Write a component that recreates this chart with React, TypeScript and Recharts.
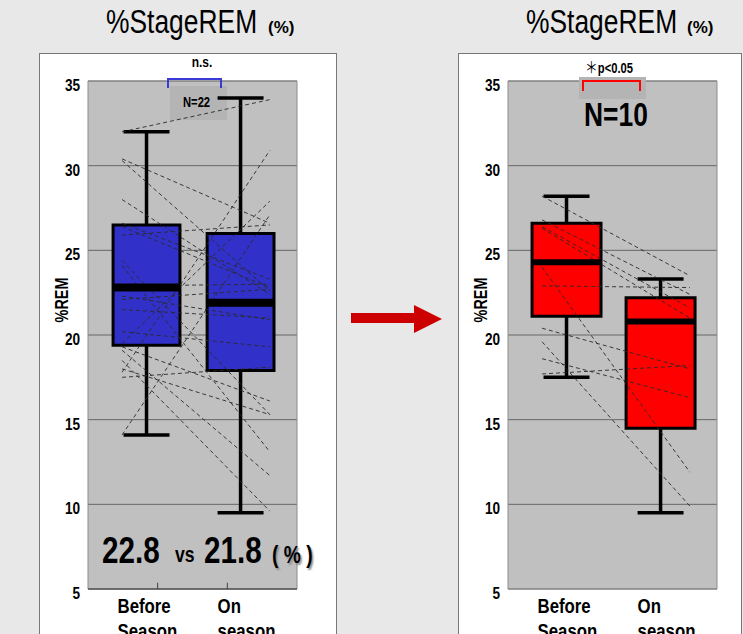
import React from "react";
import {
  ComposedChart,
  Line,
  XAxis,
  YAxis,
  CartesianGrid,
  ReferenceArea,
  ReferenceLine,
} from "recharts";

const yTicks = [5, 10, 15, 20, 25, 30, 35];
const categories = ["Before|Season", "On|season"];

// left panel, all 22 athletes (paired values)
const allBefore = [32.0, 30.4, 30.3, 28.0, 26.6, 26.4, 25.9, 24.4, 24.1, 22.3, 22.1, 21.5, 20.2, 19.3, 19.1, 18.5, 17.5, 14.1, 17.8, 19.5, 22.9, 18.0];
const allOn = [33.9, 26.6, 22.6, 22.4, 23.3, 22.8, 26.5, 15.3, 13.1, 20.9, 22.7, 21.0, 19.3, 16.1, 11.7, 9.6, 18.1, 27.1, 30.9, 27.9, 23.0, 15.3];
// box stats: min, q1, median, q3, max
const allBoxBefore = [14.1, 19.4, 22.8, 26.5, 32.0];
const allBoxOn = [9.5, 17.9, 21.9, 26.0, 34.0];

// right panel, 10 athletes
const subBefore = [28.2, 26.8, 26.4, 26.3, 24.0, 22.9, 20.4, 19.6, 18.6, 17.7];
const subOn = [23.5, 22.4, 21.6, 21.0, 11.9, 22.8, 18.0, 9.9, 16.3, 18.2];
const subBoxBefore = [17.5, 21.1, 24.3, 26.6, 28.2];
const subBoxOn = [9.5, 14.5, 20.8, 22.2, 23.3];

// no narrow font installed, so squeeze Liberation Sans
const FONT = '"Liberation Sans", Arial, sans-serif';
const SQ = 0.8;

// x positions on a 0..100 scale
const X_BEFORE = 28;
const X_ON = 73;
const X_START = 16.3;
const X_END = 87;
const CAP = 11;

function YTick({ x, y, payload }: any) {
  return (
    <text transform={`translate(${x},${y}) scale(${SQ},1)`} x={0} y={10} textAnchor="end" fontFamily={FONT} fontWeight="bold" fontSize={17} fill="#000">
      {payload.value}
    </text>
  );
}

function CatTick({ x, y, payload }: any) {
  const i = payload.value === X_BEFORE ? 0 : 1;
  const [a, b] = categories[i].split("|");
  const tx = x + (i === 0 ? -29 : -23);
  return (
    <text transform={`translate(${tx},${y + 16}) scale(${SQ},1)`} x={0} y={0} fontFamily={FONT} fontWeight="bold" fontSize={21} fill="#000">
      <tspan x={0}>{a}</tspan>
      <tspan x={0} dy={25}>{b}</tspan>
    </text>
  );
}

function boxMarks(key: string, cx: number, s: number[], fill: string, half: number) {
  const [mn, q1, , q3, mx] = s;
  return [
    <ReferenceLine key={key + "w"} segment={[{ x: cx, y: mn }, { x: cx, y: mx }]} stroke="#000" strokeWidth={3.5} zIndex={100} />,
    <ReferenceLine key={key + "c1"} segment={[{ x: cx - CAP, y: mn }, { x: cx + CAP, y: mn }]} stroke="#000" strokeWidth={3.5} zIndex={100} />,
    <ReferenceLine key={key + "c2"} segment={[{ x: cx - CAP, y: mx }, { x: cx + CAP, y: mx }]} stroke="#000" strokeWidth={3.5} zIndex={100} />,
    <ReferenceArea key={key + "b"} x1={cx - half} x2={cx + half} y1={q1} y2={q3} fill={fill} fillOpacity={1} stroke="#000" strokeWidth={3} zIndex={200} />,
  ];
}

function Panel({ before, on, boxB, boxO, fill, width, yw, rm, half, medW, axis }: any) {
  return (
    <ComposedChart width={width} height={580} margin={{ top: 27, right: rm, left: 0, bottom: 0 }}>
      <CartesianGrid vertical={false} stroke="#666" fill="#c0c0c0" fillOpacity={1} />
      <XAxis
        dataKey="x"
        type="number"
        domain={[0, 100]}
        ticks={[X_BEFORE, X_ON]}
        height={45}
        axisLine={axis ? { stroke: "#404040" } : false}
        tickLine={false}
        tick={(p: any) => <CatTick {...p} />}
        allowDataOverflow
      />
      <YAxis
        type="number"
        domain={[5, 35]}
        ticks={yTicks}
        width={yw}
        axisLine={false}
        tickLine={false}
        tick={(p: any) => <YTick {...p} />}
        allowDataOverflow
      />
      <ReferenceArea x1={0} x2={100} y1={5} y2={35} fill="none" stroke="#8c8c8c" zIndex={50} />
      {axis && <ReferenceLine segment={[{ x: 33.33, y: 5 }, { x: 33.33, y: 5.37 }]} stroke="#404040" />}
      {axis && <ReferenceLine segment={[{ x: 66.67, y: 5 }, { x: 66.67, y: 5.37 }]} stroke="#404040" />}
      {boxMarks("b", X_BEFORE, boxB, fill, half)}
      {boxMarks("o", X_ON, boxO, fill, half)}
      {before.map((v: number, i: number) => (
        <Line
          key={"s" + i}
          data={[{ x: X_START, v }, { x: X_END, v: on[i] }]}
          dataKey="v"
          stroke="#2a2a2a"
          strokeOpacity={0.9}
          strokeWidth={1}
          strokeDasharray="4 3"
          dot={false}
          activeDot={false}
          isAnimationActive={false}
          zIndex={300}
        />
      ))}
      <ReferenceLine segment={[{ x: X_BEFORE - half, y: boxB[2] }, { x: X_BEFORE + half, y: boxB[2] }]} stroke="#000" strokeWidth={medW} zIndex={350} />
      <ReferenceLine segment={[{ x: X_ON - half, y: boxO[2] }, { x: X_ON + half, y: boxO[2] }]} stroke="#000" strokeWidth={medW} zIndex={350} />
    </ComposedChart>
  );
}

function Label({ x, base, size, bold = true, center = false, children, style }: any) {
  return (
    <div
      style={{
        position: "absolute",
        left: x,
        top: base - 0.85 * size,
        fontSize: size,
        lineHeight: `${size}px`,
        fontFamily: FONT,
        fontWeight: bold ? "bold" : "normal",
        whiteSpace: "nowrap",
        transformOrigin: "0 0",
        transform: center ? `scaleX(${SQ}) translateX(-50%)` : `scaleX(${SQ})`,
        color: "#000",
        ...style,
      }}
    >
      {children}
    </div>
  );
}

export default function App() {
  return (
    <div style={{ position: "absolute", left: 0, top: 0, width: 743, height: 634, overflow: "hidden", background: "#e8e8e8" }}>
      <div style={{ position: "absolute", left: 39, top: 53, width: 298, height: 620, boxSizing: "border-box", background: "#fff", border: "1px solid #777" }} />
      <div style={{ position: "absolute", left: 458, top: 53, width: 284, height: 620, boxSizing: "border-box", background: "#fff", border: "1px solid #777" }} />

      <div style={{ position: "absolute", left: 40, top: 54 }}>
        <Panel before={allBefore} on={allOn} boxB={allBoxBefore} boxO={allBoxOn} fill="#3131c9" width={296} yw={48} rm={39} half={16} medW={8} axis />
      </div>
      <div style={{ position: "absolute", left: 459, top: 54 }}>
        <Panel before={subBefore} on={subOn} boxB={subBoxBefore} boxO={subBoxOn} fill="#ff0000" width={282} yw={49} rm={24} half={16.5} medW={6} axis={false} />
      </div>

      <Label x={106} base={33} size={33} bold={false}>%StageREM</Label>
      <Label x={268} base={33} size={17} style={{ transform: "none" }}>(%)</Label>
      <Label x={526} base={33} size={33} bold={false}>%StageREM</Label>
      <Label x={687} base={33} size={17} style={{ transform: "none" }}>(%)</Label>

      {/* left annotations */}
      <Label x={202} base={67} size={15} center>n.s.</Label>
      <div style={{ position: "absolute", left: 167, top: 78, width: 55, height: 10, boxSizing: "border-box", borderTop: "2px solid #3a3ad8", borderLeft: "2px solid #3a3ad8", borderRight: "2px solid #3a3ad8" }} />
      <div style={{ position: "absolute", left: 170, top: 86, width: 57, height: 34, background: "rgba(0,0,0,0.06)" }} />
      <Label x={183} base={107} size={14}>N=22</Label>

      {/* right annotations */}
      <Label x={585} base={71} size={14}>
        <span style={{ fontFamily: '"Noto Sans CJK JP", sans-serif', fontWeight: "normal", fontSize: 16 }}>＊</span>p&lt;0.05
      </Label>
      <div style={{ position: "absolute", left: 579, top: 77, width: 67, height: 22, background: "#b4b4b4" }} />
      <div style={{ position: "absolute", left: 582, top: 80, width: 59, height: 11, boxSizing: "border-box", borderTop: "2px solid #ff0000", borderLeft: "2px solid #ff0000", borderRight: "2px solid #ff0000" }} />
      <Label x={584} base={126} size={33}>N=10</Label>

      {/* y labels */}
      {[62, 481].map((cx) => (
        <div
          key={cx}
          style={{
            position: "absolute",
            left: cx,
            top: 300,
            fontFamily: FONT,
            fontWeight: "bold",
            fontSize: 18,
            lineHeight: "18px",
            whiteSpace: "nowrap",
            transform: `translate(-50%, -50%) rotate(-90deg) scaleX(${SQ})`,
          }}
        >
          %REM
        </div>
      ))}

      <Label x={102} base={563} size={37}>22.8</Label>
      <Label x={175} base={563} size={22}>vs</Label>
      <Label x={204} base={563} size={37}>21.8</Label>
      <Label x={272} base={563} size={24} style={{ transform: `scaleX(${SQ})`, textShadow: "2px 2px 2px #888" }}>( % )</Label>

      <svg style={{ position: "absolute", left: 351, top: 305 }} width={92} height={29}>
        <polygon points="0,8 63,8 63,0 91,14 63,28 63,18 0,18" fill="#cc0000" />
      </svg>
    </div>
  );
}
